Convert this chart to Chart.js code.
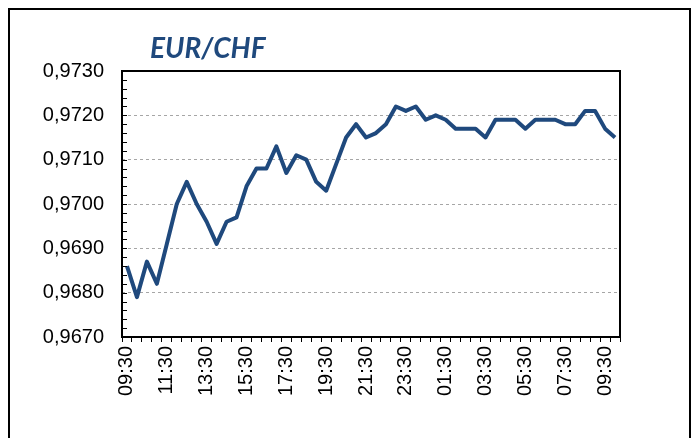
<!DOCTYPE html>
<html>
<head>
<meta charset="utf-8">
<script src="https://cdn.jsdelivr.net/npm/chart.js@4.4.0/dist/chart.umd.min.js"></script>
<style>
  body { margin: 0; background: #fff; overflow: hidden; }
  #wrap { position: relative; width: 698px; height: 438px; }
  #frame {
    position: absolute; left: 8px; top: 8px; width: 679px; height: 460px;
    border: 2px solid #000; pointer-events: none;
  }
  canvas { position: absolute; left: 0; top: 0; }
</style>
</head>
<body>
<div id="wrap">
  <canvas id="fxChart" width="698" height="438"></canvas>
  <div id="frame"></div>
</div>
<script>
// half-hourly EUR/CHF quotes, 09:30 -> 10:00 next day
const times = [
  "09:30", "10:00", "10:30", "11:00", "11:30", "12:00", "12:30", "13:00", "13:30", "14:00",
  "14:30", "15:00", "15:30", "16:00", "16:30", "17:00", "17:30", "18:00", "18:30", "19:00",
  "19:30", "20:00", "20:30", "21:00", "21:30", "22:00", "22:30", "23:00", "23:30", "00:00",
  "00:30", "01:00", "01:30", "02:00", "02:30", "03:00", "03:30", "04:00", "04:30", "05:00",
  "05:30", "06:00", "06:30", "07:00", "07:30", "08:00", "08:30", "09:00", "09:30", "10:00"
];
const rates = [
  0.9686, 0.9679, 0.9687, 0.9682, 0.9691, 0.9700, 0.9705, 0.9700, 0.9696, 0.9691,
  0.9696, 0.9697, 0.9704, 0.9708, 0.9708, 0.9713, 0.9707, 0.9711, 0.9710, 0.9705,
  0.9703, 0.9709, 0.9715, 0.9718, 0.9715, 0.9716, 0.9718, 0.9722, 0.9721, 0.9722,
  0.9719, 0.9720, 0.9719, 0.9717, 0.9717, 0.9717, 0.9715, 0.9719, 0.9719, 0.9719,
  0.9717, 0.9719, 0.9719, 0.9719, 0.9718, 0.9718, 0.9721, 0.9721, 0.9717, 0.9715
];
const yMin = 0.967;
const yMax = 0.973;
const yStep = 0.001;
const yMinorStep = 0.0002;
const labelEvery = 4;
const chartTitle = "EUR/CHF";

const lineColor = "rgb(31, 73, 125)";
const axisFont = { family: "'Liberation Sans', Arial, sans-serif", size: 20 };

// box round the plot, small inward ticks on the y axis, and the title
const framePlugin = {
  id: "framePlugin",
  afterDraw(chart) {
    const ctx = chart.ctx;
    const area = chart.chartArea;
    const y = chart.scales.y;
    ctx.save();
    ctx.strokeStyle = "#000";
    ctx.lineWidth = 1;
    const n = Math.round((yMax - yMin) / yMinorStep);
    for (let k = 0; k <= n; k++) {
      const py = Math.round(y.getPixelForValue(yMin + k * yMinorStep)) + 0.5;
      ctx.beginPath();
      ctx.moveTo(area.left, py);
      ctx.lineTo(area.left + 5, py);
      ctx.stroke();
    }
    ctx.lineWidth = 2;
    ctx.strokeRect(area.left, area.top, area.right - area.left, area.bottom - area.top);

    ctx.fillStyle = lineColor;
    ctx.font = "italic bold 28px Lato, 'Open Sans', sans-serif";
    ctx.textBaseline = "alphabetic";
    ctx.textAlign = "left";
    ctx.fillText(chartTitle, area.left + 28, area.top - 13);
    ctx.restore();
  },
};

const ctx = document.getElementById("fxChart").getContext("2d");
new Chart(ctx, {
  type: "line",
  data: {
    labels: times,
    datasets: [
      {
        label: chartTitle,
        data: rates,
        borderColor: lineColor,
        backgroundColor: lineColor,
        borderWidth: 4,
        borderJoinStyle: "round",
        pointRadius: 0,
        tension: 0,
        fill: false,
      },
    ],
  },
  options: {
    responsive: false,
    animation: false,
    layout: { padding: { top: 71, right: 78, left: 0, bottom: 0 } },
    plugins: {
      legend: { display: false },
      title: { display: false },
      tooltip: { enabled: false },
    },
    scales: {
      x: {
        type: "category",
        offset: true,
        afterFit(scale) {
          scale.height = 101;
        },
        grid: {
          offset: true,
          drawOnChartArea: false,
          drawTicks: true,
          tickLength: 5,
          tickColor: "#000",
          tickWidth: 1,
        },
        border: { display: false },
        ticks: {
          autoSkip: false,
          maxRotation: 90,
          minRotation: 90,
          padding: 4,
          color: "#000",
          font: axisFont,
          callback: (value, index) => (index % labelEvery === 0 ? times[index] : ""),
        },
      },
      y: {
        min: yMin,
        max: yMax,
        afterFit(scale) {
          scale.width = 122;
        },
        grid: {
          drawTicks: false,
          lineWidth: 1,
          color: (c) => (c.index === 0 || c.index === 6 ? "rgba(0,0,0,0)" : "#a6a6a6"),
        },
        border: { display: false, dash: [3, 3] },
        ticks: {
          stepSize: yStep,
          padding: 18,
          color: "#000",
          font: axisFont,
          callback: (v) => Number(v).toFixed(4).replace(".", ","),
        },
      },
    },
  },
  plugins: [framePlugin],
});
</script>
</body>
</html>
